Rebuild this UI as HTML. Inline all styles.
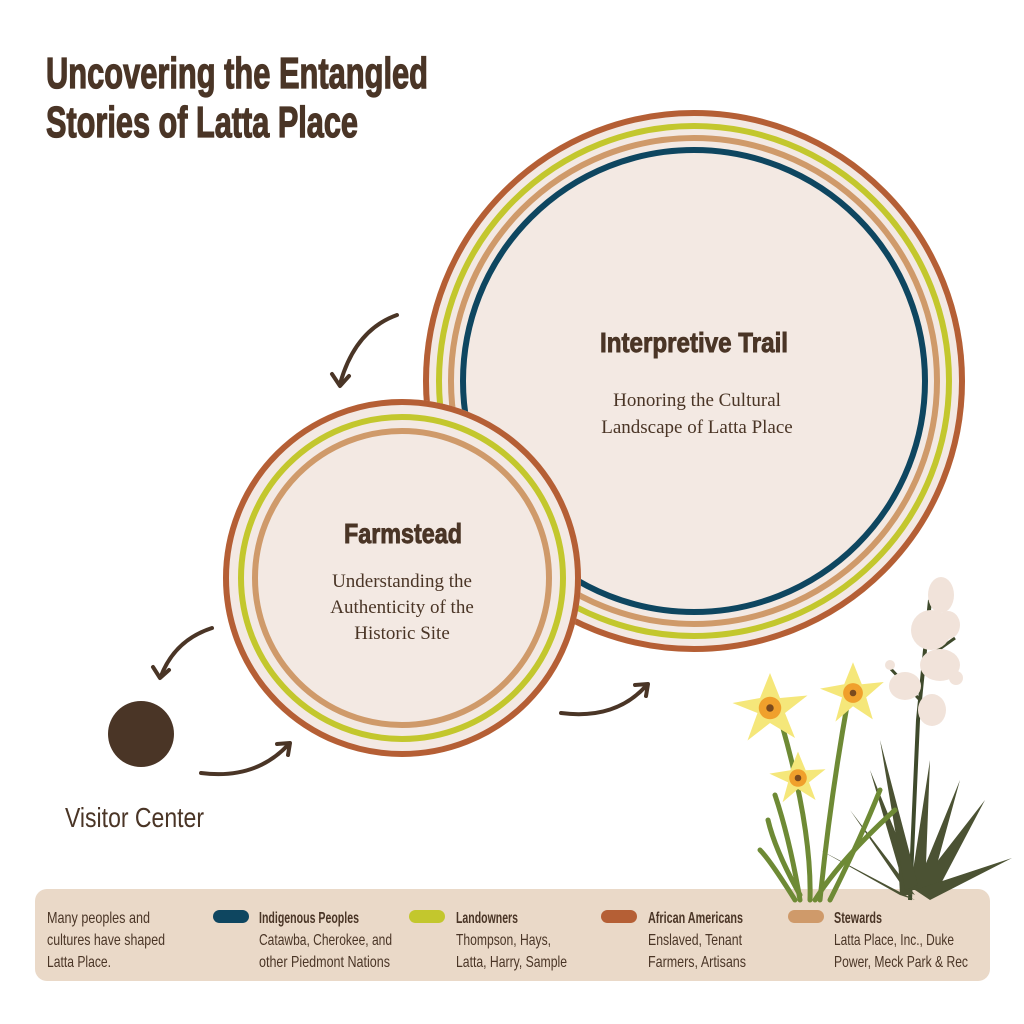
<!DOCTYPE html>
<html><head><meta charset="utf-8"><style>
html,body{margin:0;padding:0;background:#fff;}
svg{display:block}
.t{font-family:"Liberation Sans",sans-serif;font-weight:bold;fill:#4a3526;stroke:#4a3526;stroke-width:1.3px}
.s{font-family:"Liberation Serif",serif;fill:#4a3526}
.l{font-family:"Liberation Sans",sans-serif;fill:#4a3526;font-size:16px}
.b{font-weight:bold}
</style></head><body>
<svg width="1024" height="1024" viewBox="0 0 1024 1024" xmlns="http://www.w3.org/2000/svg">
<rect width="1024" height="1024" fill="#fff"/>
<text class="t" x="46" y="88" font-size="44" textLength="382" lengthAdjust="spacingAndGlyphs">Uncovering the Entangled</text>
<text class="t" x="46" y="137" font-size="44" textLength="312" lengthAdjust="spacingAndGlyphs">Stories of Latta Place</text>

<circle cx="694" cy="381" r="271" fill="#f3e9e3"/>
<g fill="none" stroke-width="6">
<circle cx="694" cy="381" r="268" stroke="#b55f35"/>
<circle cx="694" cy="381" r="255" stroke="#c3c72d"/>
<circle cx="694" cy="381" r="243" stroke="#cf9a6a"/>
<circle cx="694" cy="381" r="231" stroke="#0e4660"/>
</g>
<text class="t" x="600" y="352" font-size="28" textLength="188" lengthAdjust="spacingAndGlyphs" style="stroke-width:0.9px">Interpretive Trail</text>
<text class="s" x="697" y="406" font-size="19" text-anchor="middle">Honoring the Cultural</text>
<text class="s" x="697" y="433" font-size="19" text-anchor="middle">Landscape of Latta Place</text>

<circle cx="402" cy="578" r="179" fill="#f3e9e3"/>
<g fill="none" stroke-width="6">
<circle cx="402" cy="578" r="176" stroke="#b55f35"/>
<circle cx="402" cy="578" r="161" stroke="#c3c72d"/>
<circle cx="402" cy="578" r="147" stroke="#cf9a6a"/>
</g>
<text class="t" x="344" y="543" font-size="28" textLength="118" lengthAdjust="spacingAndGlyphs" style="stroke-width:0.9px">Farmstead</text>
<text class="s" x="402" y="587" font-size="19" text-anchor="middle">Understanding the</text>
<text class="s" x="402" y="613" font-size="19" text-anchor="middle">Authenticity of the</text>
<text class="s" x="402" y="639" font-size="19" text-anchor="middle">Historic Site</text>

<circle cx="141" cy="734" r="33" fill="#4a3526"/>
<text class="l" x="65" y="827" style="font-size:28px" textLength="139" lengthAdjust="spacingAndGlyphs">Visitor Center</text>

<g fill="none" stroke="#4a3526" stroke-width="4" stroke-linecap="round" stroke-linejoin="round">
<path d="M397 315 Q355 330 340 384"/>
<path d="M332 374 L340 386 L349 376"/>
<path d="M212 628 Q175 640 161 676"/>
<path d="M153 667 L160 678 L169 670"/>
<path d="M201 773 Q255 780 288 745"/>
<path d="M277 744 L290 743 L288 755"/>
<path d="M561 713 Q615 720 646 686"/>
<path d="M635 685 L648 684 L646 696"/>
</g>

<rect x="35" y="889" width="955" height="92" rx="12" fill="#ead9c8"/>
<text class="l" x="47" y="923" textLength="103" lengthAdjust="spacingAndGlyphs">Many peoples and</text>
<text class="l" x="47" y="945" textLength="118" lengthAdjust="spacingAndGlyphs">cultures have shaped</text>
<text class="l" x="47" y="967" textLength="64" lengthAdjust="spacingAndGlyphs">Latta Place.</text>
<rect x="213" y="910" width="36" height="13" rx="6.5" fill="#0e4660"/>
<text class="l b" x="259" y="923" textLength="100" lengthAdjust="spacingAndGlyphs">Indigenous Peoples</text>
<text class="l" x="259" y="945" textLength="133" lengthAdjust="spacingAndGlyphs">Catawba, Cherokee, and</text>
<text class="l" x="259" y="967" textLength="131" lengthAdjust="spacingAndGlyphs">other Piedmont Nations</text>
<rect x="409" y="910" width="36" height="13" rx="6.5" fill="#c3c72d"/>
<text class="l b" x="456" y="923" textLength="62" lengthAdjust="spacingAndGlyphs">Landowners</text>
<text class="l" x="456" y="945" textLength="95" lengthAdjust="spacingAndGlyphs">Thompson, Hays,</text>
<text class="l" x="456" y="967" textLength="111" lengthAdjust="spacingAndGlyphs">Latta, Harry, Sample</text>
<rect x="601" y="910" width="36" height="13" rx="6.5" fill="#b55f35"/>
<text class="l b" x="648" y="923" textLength="95" lengthAdjust="spacingAndGlyphs">African Americans</text>
<text class="l" x="648" y="945" textLength="94" lengthAdjust="spacingAndGlyphs">Enslaved, Tenant</text>
<text class="l" x="648" y="967" textLength="98" lengthAdjust="spacingAndGlyphs">Farmers, Artisans</text>
<rect x="788" y="910" width="36" height="13" rx="6.5" fill="#cf9a6a"/>
<text class="l b" x="834" y="923" textLength="48" lengthAdjust="spacingAndGlyphs">Stewards</text>
<text class="l" x="834" y="945" textLength="120" lengthAdjust="spacingAndGlyphs">Latta Place, Inc., Duke</text>
<text class="l" x="834" y="967" textLength="134" lengthAdjust="spacingAndGlyphs">Power, Meck Park &amp; Rec</text>

<g>
<path d="M910 900 L918 720 L930 600" stroke="#3f4a2c" stroke-width="4" fill="none"/>
<path d="M920 700 L890 668 M924 660 L955 638" stroke="#3f4a2c" stroke-width="3" fill="none"/>
<g fill="#f1e3da">
<ellipse cx="941" cy="595" rx="13" ry="18"/>
<ellipse cx="931" cy="630" rx="20" ry="20"/>
<ellipse cx="948" cy="625" rx="12" ry="14"/>
<ellipse cx="940" cy="665" rx="20" ry="16"/>
<ellipse cx="905" cy="686" rx="16" ry="14"/>
<ellipse cx="932" cy="710" rx="14" ry="16"/>
<ellipse cx="956" cy="678" rx="7" ry="7"/>
<ellipse cx="890" cy="665" rx="5" ry="5"/>
</g>
<g fill="#4b5233">
<path d="M905 890 L870 770 L915 880 Z"/>
<path d="M910 890 L930 760 L925 890 Z"/>
<path d="M915 890 L960 780 L930 890 Z"/>
<path d="M915 890 L985 800 L935 895 Z"/>
<path d="M915 890 L1012 858 L930 900 Z"/>
<path d="M905 890 L850 810 L915 895 Z"/>
<path d="M900 895 L820 850 L915 900 Z"/>
<path d="M900 895 L895 800 L912 895 Z"/>
<path d="M905 890 L880 740 L918 885 Z"/>
</g>
<g stroke="#6e8a35" stroke-width="5" fill="none" stroke-linecap="round">
<path d="M800 900 Q790 840 775 795"/>
<path d="M810 900 Q812 830 782 725"/>
<path d="M820 900 Q830 800 848 700"/>
<path d="M800 895 Q775 850 768 820"/>
<path d="M830 900 Q860 840 880 790"/>
<path d="M815 900 Q840 860 895 810"/>
<path d="M795 900 Q770 860 760 850"/>
</g>
<g>
<g transform="translate(770,708) scale(1.25)">
<path d="M0 -28 L8 -8 L30 -10 L12 4 L20 24 L0 12 L-18 26 L-10 4 L-30 -4 L-8 -8 Z" fill="#f5e77a"/>
<circle r="9" fill="#f0a02c"/><circle r="3" fill="#7a4a1e"/>
</g>
<g transform="translate(853,693) scale(1.1)">
<path d="M0 -28 L8 -8 L28 -10 L12 4 L18 24 L0 12 L-16 26 L-10 4 L-30 -4 L-8 -8 Z" fill="#f5e77a"/>
<circle r="9" fill="#f0a02c"/><circle r="3" fill="#7a4a1e"/>
</g>
<g transform="translate(798,778) scale(1.1)">
<path d="M0 -24 L7 -7 L25 -8 L10 4 L16 20 L0 10 L-14 22 L-9 4 L-26 -4 L-7 -7 Z" fill="#f5e77a"/>
<circle r="8" fill="#f0a02c"/><circle r="3" fill="#7a4a1e"/>
</g>
</g>
</g>
</svg>
</body></html>
